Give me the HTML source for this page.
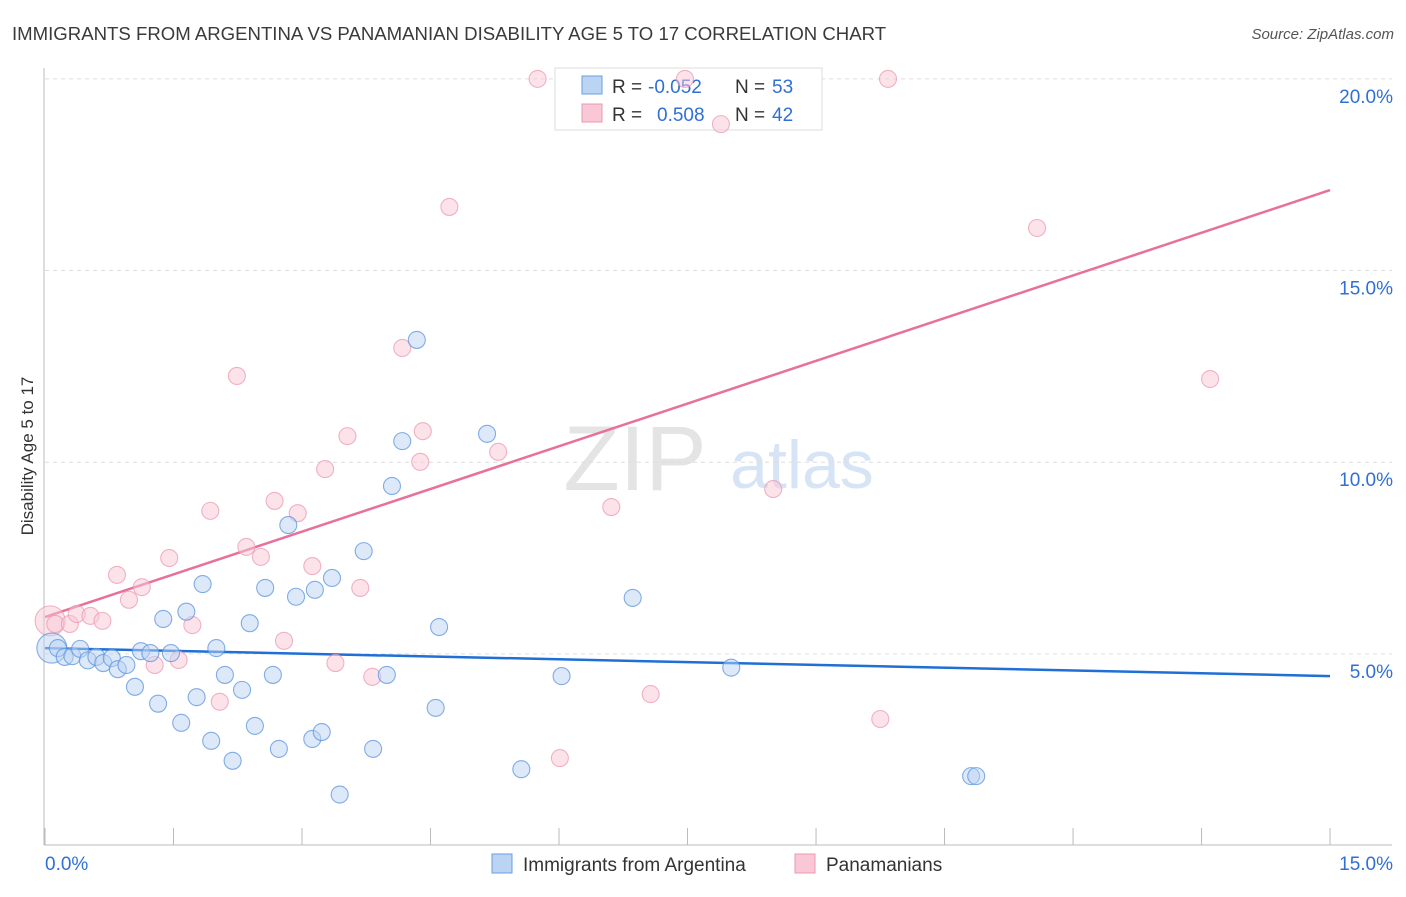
<!DOCTYPE html>
<html><head><meta charset="utf-8"><style>
body{margin:0;background:#fff;font-family:"Liberation Sans",sans-serif}
svg text{font-family:"Liberation Sans",sans-serif}
</style></head><body>
<svg id="c" width="1406" height="892">
<text x="12" y="40" font-size="18.6" fill="#3a3a3a">IMMIGRANTS FROM ARGENTINA VS PANAMANIAN DISABILITY AGE 5 TO 17 CORRELATION CHART</text>
<text x="1394" y="39" font-size="15" fill="#555" text-anchor="end" font-style="italic">Source: ZipAtlas.com</text>
<text x="33" y="456" font-size="17" fill="#333" text-anchor="middle" transform="rotate(-90 33 456)">Disability Age 5 to 17</text>
<g><text x="635" y="490" font-size="92" fill="#e4e4e4" text-anchor="middle" font-family="Liberation Serif">ZIP</text><text x="802" y="488" font-size="68" fill="#d6e4f6" text-anchor="middle">atlas</text></g>
<g id="grid"></g><g id="axes"></g>
<g>
<rect x="555" y="68" width="267" height="62" fill="#fff" stroke="#ddd"/>
<rect x="582" y="76" width="20" height="18" fill="#bcd4f4" stroke="#6a9ee0"/>
<rect x="582" y="104" width="20" height="18" fill="#f9c7d6" stroke="#ec9ab3"/>
<text x="612" y="93" font-size="19" fill="#333">R =</text><text x="648" y="93" font-size="19" fill="#2f6fd6">-0.052</text>
<text x="735" y="93" font-size="19" fill="#333">N =</text><text x="772" y="93" font-size="19" fill="#2f6fd6">53</text>
<text x="612" y="121" font-size="19" fill="#333">R =</text><text x="657" y="121" font-size="19" fill="#2f6fd6">0.508</text>
<text x="735" y="121" font-size="19" fill="#333">N =</text><text x="772" y="121" font-size="19" fill="#2f6fd6">42</text>
</g>
<g id="trend"></g><g id="pts"></g>
<g>
<rect x="492" y="854" width="20" height="19" fill="#bcd4f4" stroke="#6a9ee0"/>
<text x="523" y="871" font-size="19" fill="#333">Immigrants from Argentina</text>
<rect x="795" y="854" width="20" height="19" fill="#f9c7d6" stroke="#ec9ab3"/>
<text x="826" y="871" font-size="19" fill="#333">Panamanians</text>
</g>
</svg>
<script>
const blueX=[0.08,0.15,0.23,0.32,0.41,0.50,0.60,0.68,0.78,0.85,0.95,1.05,1.12,1.23,1.32,1.38,1.47,1.59,1.65,1.77,1.84,1.94,2.00,2.10,2.19,2.30,2.39,2.45,2.57,2.66,2.73,2.84,2.93,3.12,3.15,3.23,3.35,3.44,3.72,3.83,3.99,4.05,4.17,4.34,4.56,4.60,5.16,5.56,6.03,6.86,8.01,10.81,10.87];
const blueY=[5.15,5.15,4.92,4.94,5.13,4.83,4.92,4.76,4.89,4.60,4.71,4.14,5.07,5.02,3.70,5.91,5.02,3.20,6.10,3.87,6.82,2.73,5.15,4.45,2.21,4.06,5.80,3.12,6.72,4.45,2.52,8.36,6.49,2.78,6.67,2.96,6.98,1.33,7.68,2.52,4.45,9.38,10.55,13.19,3.59,5.70,10.74,1.99,4.42,6.46,4.64,1.81,1.81];
const pinkX=[0.06,0.12,0.29,0.37,0.53,0.67,0.84,0.98,1.13,1.28,1.45,1.56,1.72,1.93,2.04,2.24,2.35,2.52,2.68,2.79,2.95,3.12,3.27,3.39,3.53,3.68,3.82,4.17,4.38,4.41,4.72,5.29,5.75,6.01,6.61,7.07,7.47,7.89,8.50,9.75,9.84,11.58,13.60];
const pinkY=[5.86,5.78,5.78,6.04,5.99,5.86,7.06,6.41,6.74,4.71,7.50,4.84,5.75,8.73,3.75,12.25,7.79,7.53,8.99,5.34,8.67,7.29,9.82,4.76,10.68,6.72,4.40,12.98,10.01,10.81,16.66,10.27,20.0,2.28,8.83,3.95,20.0,18.82,9.30,3.30,20.0,16.11,12.17];
const blueTrend=[5.15,4.42];
const pinkTrend=[5.96,17.10];
const yTicks=[5,10,15,20];
const yTickLabels=["5.0%","10.0%","15.0%","20.0%"];
const xLabels=["0.0%","15.0%"];
const NS="http://www.w3.org/2000/svg";
const sx=v=>45+v*85.67, sy=v=>845.5-v*38.33;
function mk(p,t,a){const e=document.createElementNS(NS,t);for(const k in a)e.setAttribute(k,a[k]);p.appendChild(e);return e;}
const grid=document.getElementById('grid'),axes=document.getElementById('axes'),trend=document.getElementById('trend'),pts=document.getElementById('pts');
yTicks.forEach((v,i)=>{
 const l=mk(grid,'line',{x1:45,x2:1392,y1:sy(v),y2:sy(v),stroke:'#ddd','stroke-dasharray':'4 4'});
 
 
 const t=mk(grid,'text',{x:1393,y:sy(v)+24,'font-size':19,fill:'#2f6fd6','text-anchor':'end'});t.textContent=yTickLabels[i];
 
 
});
const ya=mk(axes,'line',{x1:44,x2:44,y1:68,y2:845,stroke:'#bbb'});


const xa=mk(axes,'line',{x1:44,x2:1392,y1:845,y2:845,stroke:'#bbb'});


for(let i=0;i<=10;i++){const tk=mk(axes,'line',{x1:sx(i*1.5),x2:sx(i*1.5),y1:828,y2:845,stroke:'#bbb'});
 
 }
[[0,'start',45],[15,'end',1393]].forEach((d,i)=>{const t=mk(axes,'text',{x:d[2],y:870,'font-size':19,fill:'#2f6fd6','text-anchor':d[1]});t.textContent=xLabels[i];
 
 });
function dots(X,Y,fill,stroke,name){X.forEach((x,i)=>{const c=mk(pts,'circle',{cx:sx(x),cy:sy(Y[i]),r:i==0?15:8.5,fill:fill,'fill-opacity':0.5,stroke:stroke,'stroke-width':1.1,'stroke-opacity':0.75});
 
 });}
dots(pinkX,pinkY,'#f9c7d6','#ec9ab3','panamanian-point');
dots(blueX,blueY,'#bcd4f4','#5b93de','argentina-point');
const bt=mk(trend,'line',{x1:sx(0),x2:sx(15),y1:sy(blueTrend[0]),y2:sy(blueTrend[1]),stroke:'#1f6fd6','stroke-width':2.5});


const pt=mk(trend,'line',{x1:sx(0),x2:sx(15),y1:sy(pinkTrend[0]),y2:sy(pinkTrend[1]),stroke:'#e8709a','stroke-width':2.5});


</script>
</body></html>
